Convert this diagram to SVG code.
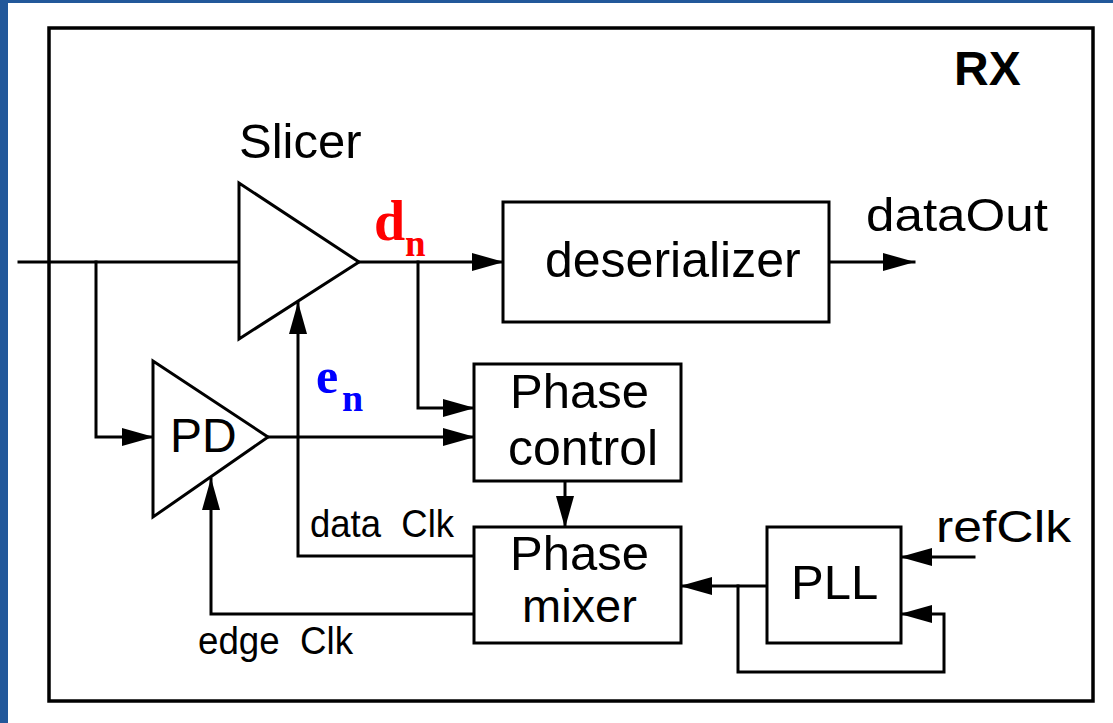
<svg xmlns="http://www.w3.org/2000/svg" width="1113" height="723" viewBox="0 0 1113 723">
<style>
.ln{fill:none;stroke:#000;stroke-width:3;stroke-linejoin:miter;stroke-linecap:square}
.blk{fill:#fff;stroke:#000;stroke-width:3}
.t{font-family:"Liberation Sans",Arial,sans-serif;fill:#000}
.s{font-family:"Liberation Serif","Times New Roman",serif;font-weight:bold}
</style>
<defs>
<marker id="ah" markerUnits="userSpaceOnUse" markerWidth="32" markerHeight="18" refX="31" refY="9" orient="auto" overflow="visible">
<path d="M0,0 L32,9 L0,18 Z" fill="#000"/>
</marker>
</defs>
<rect x="0" y="0" width="1113" height="723" fill="#fff"/>
<rect x="0" y="0" width="1113" height="3" fill="#22589a"/>
<rect x="0" y="0" width="8" height="723" fill="#22589a"/>
<g id="rx-frame">
<rect x="49" y="28" width="1044" height="673" fill="none" stroke="#000" stroke-width="3.5"/>
<text class="t" x="954" y="85" font-size="48" font-weight="bold">RX</text>
</g>
<g id="connectors">
<path class="ln" d="M19,262 H239"/>
<path class="ln" d="M96,262 V437 H153" marker-end="url(#ah)"/>
<path class="ln" d="M359,262 H503" marker-end="url(#ah)"/>
<path class="ln" d="M418,262 V408 H474" marker-end="url(#ah)"/>
<path class="ln" d="M268,437 H474" marker-end="url(#ah)"/>
<path class="ln" d="M474,556 H298 V303" marker-end="url(#ah)"/>
<path class="ln" d="M474,614 H211 V479" marker-end="url(#ah)"/>
<path class="ln" d="M829,262 H914" marker-end="url(#ah)"/>
<path class="ln" d="M565,481 V527" marker-end="url(#ah)"/>
<path class="ln" d="M767,586 H681" marker-end="url(#ah)"/>
<path class="ln" d="M738,586 V672 H944 V614 H901" marker-end="url(#ah)"/>
<path class="ln" d="M974,557 H901" marker-end="url(#ah)"/>
<text class="t" x="310" y="537" font-size="38" xml:space="preserve" textLength="144" lengthAdjust="spacingAndGlyphs">data  Clk</text>
<text class="t" x="198" y="654" font-size="38" xml:space="preserve" textLength="155" lengthAdjust="spacingAndGlyphs">edge  Clk</text>
<text class="s" fill="#ff0000"><tspan x="374" y="240" font-size="56">d</tspan><tspan x="405" y="256" font-size="37">n</tspan></text>
<text class="s" fill="#0000ff"><tspan x="316" y="393" font-size="50">e</tspan><tspan x="342" y="411" font-size="38">n</tspan></text>
<text class="t" x="866" y="231" font-size="46" textLength="182" lengthAdjust="spacingAndGlyphs">dataOut</text>
<text class="t" x="936" y="542" font-size="44" textLength="135" lengthAdjust="spacingAndGlyphs">refClk</text>
</g>
<g id="slicer">
<polygon class="blk" points="239,183 239,339 359,262"/>
<text class="t" x="239" y="158" font-size="49">Slicer</text>
</g>
<g id="pd">
<polygon class="blk" points="153,361 153,517 268,437"/>
<text class="t" x="170" y="452" font-size="48">PD</text>
</g>
<g id="deserializer">
<rect class="blk" x="503" y="202" width="326" height="120"/>
<text class="t" x="545" y="277" font-size="50">deserializer</text>
</g>
<g id="phase-control">
<rect class="blk" x="474" y="364" width="207" height="117"/>
<text class="t" x="510" y="408" font-size="49">Phase</text>
<text class="t" x="508" y="465" font-size="50">control</text>
</g>
<g id="phase-mixer">
<rect class="blk" x="474" y="527" width="207" height="116"/>
<text class="t" x="510" y="570" font-size="49">Phase</text>
<text class="t" x="522" y="622" font-size="47">mixer</text>
</g>
<g id="pll">
<rect class="blk" x="767" y="527" width="134" height="116"/>
<text class="t" x="791" y="599" font-size="49">PLL</text>
</g>
</svg>
